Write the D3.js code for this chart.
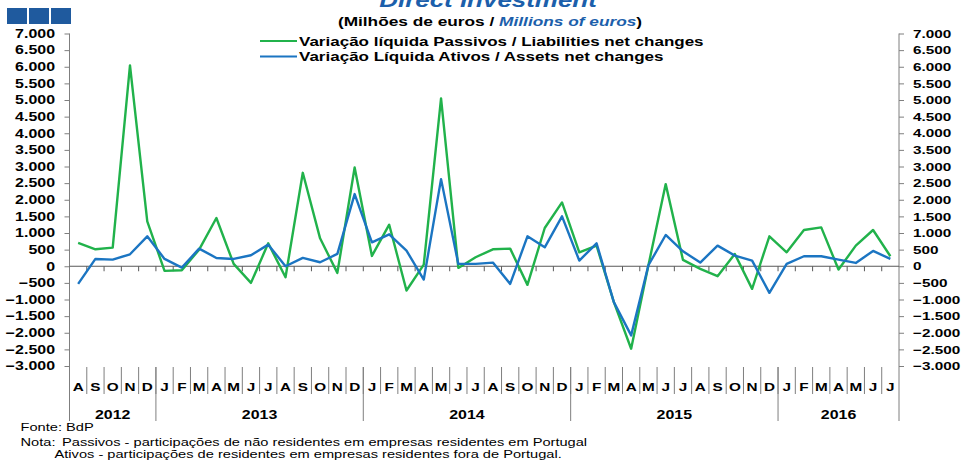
<!DOCTYPE html>
<html>
<head>
<meta charset="utf-8">
<script src="https://cdn.jsdelivr.net/npm/d3@7"></script>
<style>
  body { margin: 0; background: #fff; }
  svg { display: block; font-family: "Liberation Sans", Arial, sans-serif; }
</style>
</head>
<body>
<svg id="chart" width="962" height="462"></svg>
<script>
// months Aug 2012 .. Jul 2016
var monthLabels = ["A","S","O","N","D",
    "J","F","M","A","M","J","J","A","S","O","N","D",
    "J","F","M","A","M","J","J","A","S","O","N","D",
    "J","F","M","A","M","J","J","A","S","O","N","D",
    "J","F","M","A","M","J","J"];
var yearLabels = ["2012", "2013", "2014", "2015", "2016"];
var yearMonths = [5, 12, 12, 12, 7];

// Variação líquida Passivos / Liabilities net changes (green)
var passivos = [700, 510, 560, 6040, 1350,
    -140, -120, 500, 1450, 70, -500, 690, -330, 2810, 840, -200, 2970,
    310, 1250, -730, 50, 5050, -50, 270, 510, 530, -560, 1150, 1920,
    420, 620, -1080, -2480, 30, 2470, 190, -80, -300, 370, -680, 900,
    420, 1090, 1170, -100, 620, 1090, 300];

// Variação Líquida Ativos / Assets net changes (blue)
var ativos = [-530, 220, 200, 360, 900,
    220, -40, 530, 250, 220, 330, 650, 0, 250, 120, 370, 2170,
    720, 960, 470, -400, 2620, 70, 70, 110, -530, 900, 570, 1500,
    170, 690, -1080, -2080, 30, 940, 450, 110, 620, 320, 170, -800,
    70, 300, 300, 200, 100, 460, 220];

var yTicks = d3.range(-3000, 7001, 500);

var SX = 1.33; // the original picture is stretched horizontally
var green = "#21b24b", blue = "#1b75c2", navy = "#1f5a9e";

var svg = d3.select("#chart");

var keys = monthLabels.map(function(m, i) { return i; });
var x = d3.scaleBand().domain(keys).range([69.5, 899]).paddingInner(0).paddingOuter(0);
var y = d3.scaleLinear().domain([-3000, 7000]).range([366, 33.5]);

function fmt(v) {
    return d3.format(",")(v).replace(/,/g, ".");
}

function stext(x0, y0, str, size, weight, anchor) {
    return svg.append("text")
        .attr("transform", "translate(" + x0 + "," + y0 + ") scale(" + SX + ",1)")
        .attr("font-size", size)
        .attr("font-weight", weight || "normal")
        .attr("text-anchor", anchor || "start")
        .text(str);
}

// logo squares
svg.selectAll("rect.logo")
    .data([0, 1, 2])
    .enter().append("rect")
    .attr("class", "logo")
    .attr("x", function(d) { return 7 + d * 22; })
    .attr("y", 8)
    .attr("width", 20)
    .attr("height", 16)
    .attr("fill", navy);

// title + subtitle
stext(488, 7, "Direct Investment", 19.5, "bold", "middle")
    .attr("font-style", "italic").attr("fill", "#1c5fab");

var sub = stext(490, 26, "", 13, "bold", "middle").attr("fill", "#000");
sub.append("tspan").text("(Milhões de euros / ");
sub.append("tspan").attr("fill", "#1c5fab").attr("font-style", "italic").text("Millions of euros");
sub.append("tspan").text(")");

// axes
var left = svg.append("g").attr("transform", "translate(69.5,0)")
    .call(d3.axisLeft(y).tickValues(yTicks).tickSize(5).tickFormat(fmt));
var right = svg.append("g").attr("transform", "translate(899,0)")
    .call(d3.axisRight(y).tickValues(yTicks).tickSize(5).tickFormat(fmt));

[left, right].forEach(function(g) {
    g.select(".domain").remove();
    g.selectAll("line").attr("stroke", "#7f7f7f");
    g.selectAll("text")
        .attr("font-size", 12)
        .attr("font-weight", "bold")
        .attr("fill", "#000")
        .attr("font-family", "\"Liberation Sans\", Arial, sans-serif");
});
left.selectAll("text").attr("x", -14.5 / SX).attr("transform", "scale(" + SX + ",1)");
right.selectAll("text").attr("x", 14 / SX).attr("font-size", 11.5)
    .attr("transform", "scale(" + SX + ",1)");

// axis lines running down through the category labels
svg.selectAll("line.vaxis")
    .data([69.5, 899])
    .enter().append("line")
    .attr("class", "vaxis")
    .attr("x1", function(d) { return d; }).attr("x2", function(d) { return d; })
    .attr("y1", y(7000)).attr("y2", 421)
    .attr("stroke", "#7f7f7f");

// zero line with small ticks between months
svg.append("line")
    .attr("x1", x(0)).attr("x2", x(47) + x.bandwidth())
    .attr("y1", y(0)).attr("y2", y(0))
    .attr("stroke", "#595959").attr("stroke-width", 1.2);

svg.selectAll("line.ztick")
    .data(keys.slice(1))
    .enter().append("line")
    .attr("class", "ztick")
    .attr("x1", function(d) { return x(d); }).attr("x2", function(d) { return x(d); })
    .attr("y1", y(0)).attr("y2", y(0) + 5)
    .attr("stroke", "#595959");

// month separators and labels
svg.selectAll("line.msep")
    .data(keys.slice(1))
    .enter().append("line")
    .attr("class", "msep")
    .attr("x1", function(d) { return x(d); }).attr("x2", function(d) { return x(d); })
    .attr("y1", 367).attr("y2", 394)
    .attr("stroke", "#7f7f7f");

svg.selectAll("text.month")
    .data(monthLabels)
    .enter().append("text")
    .attr("class", "month")
    .attr("transform", function(d, i) {
        return "translate(" + (x(i) + x.bandwidth() / 2) + ",391) scale(" + SX + ",1)";
    })
    .attr("text-anchor", "middle")
    .attr("font-size", 11.5)
    .attr("font-weight", "bold")
    .text(function(d) { return d; });

// year separators and labels
var starts = [];
var acc = 0;
yearMonths.forEach(function(n) { starts.push(acc); acc += n; });

svg.selectAll("line.ysep")
    .data(starts.slice(1))
    .enter().append("line")
    .attr("class", "ysep")
    .attr("x1", function(d) { return x(d); }).attr("x2", function(d) { return x(d); })
    .attr("y1", 367).attr("y2", 421)
    .attr("stroke", "#7f7f7f");

svg.selectAll("text.year")
    .data(yearLabels)
    .enter().append("text")
    .attr("class", "year")
    .attr("transform", function(d, i) {
        var a = x(starts[i]), b = x(starts[i] + yearMonths[i] - 1) + x.bandwidth();
        return "translate(" + ((a + b) / 2) + ",418.5) scale(" + SX + ",1)";
    })
    .attr("text-anchor", "middle")
    .attr("font-size", 12)
    .attr("font-weight", "bold")
    .text(function(d) { return d; });

// series
var line = d3.line()
    .x(function(d, i) { return x(i) + x.bandwidth() / 2; })
    .y(function(d) { return y(d); });

svg.append("path").datum(passivos)
    .attr("fill", "none").attr("stroke", green).attr("stroke-width", 2.4)
    .attr("stroke-linejoin", "round").attr("d", line);
svg.append("path").datum(ativos)
    .attr("fill", "none").attr("stroke", blue).attr("stroke-width", 2.4)
    .attr("stroke-linejoin", "round").attr("d", line);

// legend
var legend = [
    { name: "Variação líquida Passivos / Liabilities net changes", color: green },
    { name: "Variação Líquida Ativos / Assets net changes", color: blue }
];
legend.forEach(function(d, i) {
    var ly = 41 + i * 15.5;
    svg.append("line")
        .attr("x1", 260).attr("x2", 297)
        .attr("y1", ly).attr("y2", ly)
        .attr("stroke", d.color).attr("stroke-width", 2);
    stext(299, ly + 4.5, d.name, 12.8, "bold");
});

// notes
stext(20.5, 430.5, "Fonte: BdP", 11, "normal");
stext(20.5, 446, "Nota:", 11, "normal");
stext(62, 446, "Passivos - participações de não residentes em empresas residentes em Portugal", 11, "normal");
stext(54.5, 458, "Ativos - participações de residentes em empresas residentes fora de Portugal.", 11, "normal");
</script>
</body>
</html>
